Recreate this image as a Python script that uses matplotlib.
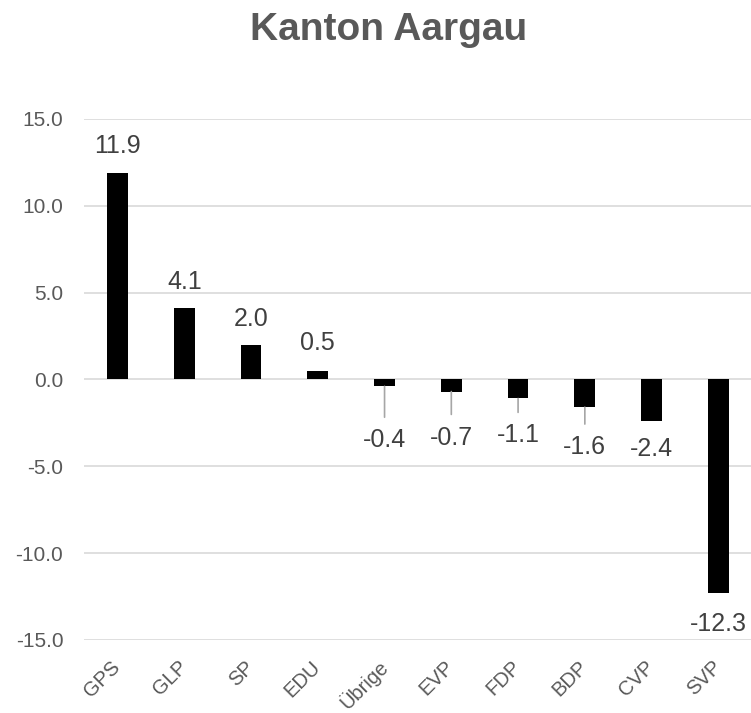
import matplotlib.pyplot as plt

# Change in vote share (percentage points), Kanton Aargau
parties = ['GPS', 'GLP', 'SP', 'EDU', 'Übrige', 'EVP', 'FDP', 'BDP', 'CVP', 'SVP']
change = [11.9, 4.1, 2.0, 0.5, -0.4, -0.7, -1.1, -1.6, -2.4, -12.3]
y_ticks = [-15, -10, -5, 0, 5, 10, 15]

# label distance from bar end in pixels (negative = above), leader line yes/no
label_px = [-27, -26, -26, -28, 54, 46, 37, 40, 28, 31]
leader = [False, False, False, False, True, True, True, True, False, False]

plt.rcParams['font.family'] = ['Liberation Sans', 'DejaVu Sans']

fig = plt.figure(figsize=(7.51, 7.13), dpi=100)
ax = fig.add_axes([0.112, 0.1024, 0.889, 0.731])

x = list(range(len(parties)))
ax.bar(x, change, width=0.31, color='black', zorder=3)

ax.set_xlim(-0.5, len(parties) - 0.5)
ax.set_ylim(-15, 15)
ax.set_yticks(y_ticks)
ax.set_yticklabels([f'{t:.1f}' for t in y_ticks], fontsize=15, color='#595959')
ax.tick_params(axis='y', length=0, pad=15)
ax.tick_params(axis='x', length=0, pad=4)
ax.set_xticks(x)
ax.set_xticklabels(parties, rotation=45, ha='right', va='center',
                   rotation_mode='anchor', fontsize=14.5, color='#595959')
for lbl in ax.get_xticklabels():
    lbl.set_y(-0.035)

ax.grid(axis='y', color='#d9d9d9', linewidth=1.2, zorder=0)
for s in ax.spines.values():
    s.set_visible(False)

# value labels
px2pt = 72 / fig.dpi
for i, (v, off, ld) in enumerate(zip(change, label_px, leader)):
    props = None
    if ld:
        props = dict(arrowstyle='-', color='#a6a6a6', lw=1.2, shrinkA=6, shrinkB=0)
    ax.annotate(f'{v:.1f}', xy=(i, v), xytext=(0, -off * px2pt), textcoords='offset points',
                ha='center', va='center', fontsize=18, color='#404040',
                arrowprops=props, zorder=4)

fig.suptitle('Kanton Aargau', x=0.517, y=0.983, fontsize=28, fontweight='bold', color='#595959')

plt.savefig('out.png', dpi=100)
